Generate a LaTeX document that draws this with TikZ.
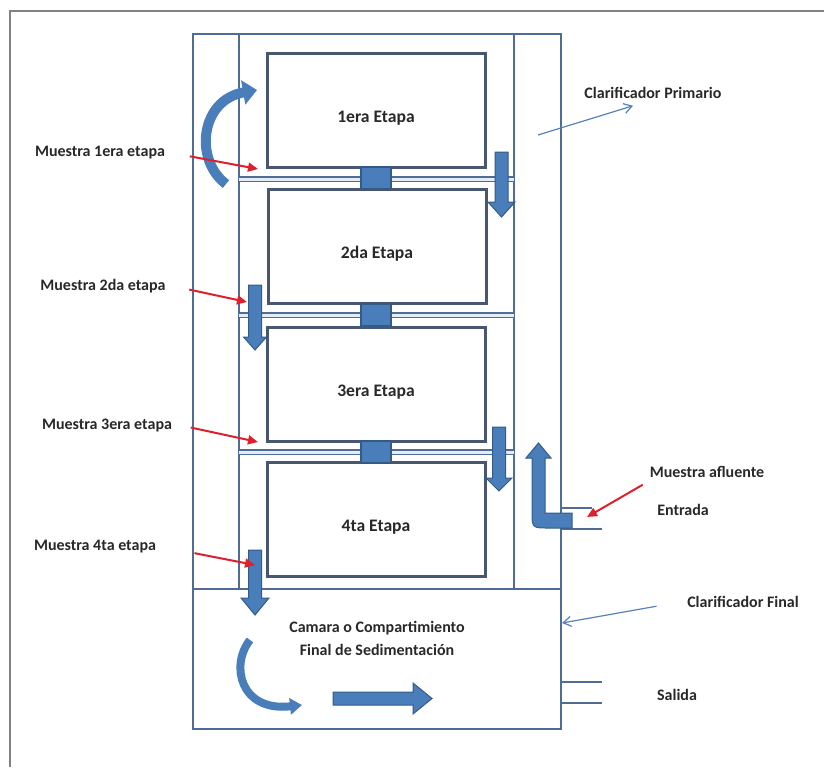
\documentclass[tikz,border=0pt]{standalone}
\usepackage{fontspec}
\setmainfont{Carlito}
\usetikzlibrary{%
	calc,%
	arrows.meta,%
	positioning,%
}
\definecolor{ctank}{RGB}{79, 108, 150}
\definecolor{cstage}{RGB}{72, 86, 112}
\definecolor{cflow}{RGB}{74, 126, 187}
\definecolor{cflowdark}{RGB}{52, 90, 136}
\definecolor{csample}{RGB}{222, 32, 44}
\definecolor{cnote}{RGB}{84, 130, 188}
\definecolor{ctext}{RGB}{40, 40, 40}
\definecolor{cframe}{RGB}{130, 130, 130}
\tikzset{
	>=Triangle,%
	nodes={align=center, text=ctext, font={\fontsize{8}{11.5}\selectfont\bfseries}},%
	tankwall/.style={%
			draw=ctank,%
			line width=1.3pt},%
	tankinner/.style={%
			draw=ctank,%
			line width=0.8pt},%
	stagebox/.style={%
			draw=cstage,%
			rectangle,%
			line width=1.5pt,%
			minimum width=109pt,%
			minimum height=57pt,%
			inner sep=0,%
			fill=white},%
	stagename/.style={font={\fontsize{8.8}{11}\selectfont\bfseries}},%
	divider/.style={%
			draw=ctank,%
			line width=0.65pt,%
			double=white!85!cflow,%
			double distance=1.5pt},%
	passage/.style={%
			draw=cflowdark,%
			fill=cflow,%
			rectangle,%
			line width=0.7pt,%
			minimum width=15pt,%
			minimum height=11pt,%
			inner sep=0},%
	flow/.style={draw=cflowdark, line width=0.5pt, fill=cflow},%
	flowcurve/.style={draw=cflow, line width=5pt, -{Triangle[length=7pt, width=12pt]}},%
	sample/.style={draw=csample, line width=1pt, -{Triangle[length=5pt, width=4.5pt]}},%
	note/.style={draw=cnote, line width=0.6pt, -{Straight Barb[length=4pt, width=5pt]}},%
	pipe/.style={draw=ctank, line width=0.9pt},%
}
\newcommand{\flowdown}[5]{%
	\filldraw[flow] (#1-6.5,#2) -- (#1+6.5,#2) -- (#1+6.5,#3) -- (#1+#5,#3) -- (#1,#4) -- (#1-#5,#3) -- (#1-6.5,#3) -- cycle;}

\begin{document}
\begin{tikzpicture}[x=0.5pt, y=-0.5pt]%
	\useasboundingbox (0,0) rectangle (824,767);
	\draw[cframe, line width=1pt] (9.5,767) -- (9.5,11) -- (824,11);

	% tank walls
	\draw[tankwall] (193,34) rectangle (561,729);
	\draw[tankinner] (239,34) -- (239,589);
	\draw[tankinner] (514,34) -- (514,589);
	\draw[tankwall] (193,589) -- (561,589);
	\foreach \y in {179,315,452}
		\draw[divider] (239,\y) -- (514,\y);

	\foreach \i/\x/\y/\name in {1/376/110/1era Etapa, 2/377/246/2da Etapa, 3/376/384/3era Etapa, 4/376/519/4ta Etapa} {
		\node[stagebox] (stage\i) at (\x,\y) {};
		\node[stagename] (stagename\i) at ($(stage\i.center)+(0,8)$) {\name};
	}
	\foreach \i/\y in {1/178, 2/315, 3/452}
		\node[passage] (pass\i) at (376,\y) {};

	\node (chamber) at (377,638) {Camara o Compartimiento\\Final de Sedimentación};

	% flow arrows
	\flowdown{501.5}{152}{202}{217}{13.5}
	\flowdown{255}{285}{337}{350}{11.5}
	\flowdown{499}{427}{478}{491}{13}
	\flowdown{255}{550}{598}{615}{14}
	\filldraw[flow] (333,692) -- (413,692) -- (413,683) -- (432,698.5) -- (413,714) -- (413,705) -- (333,705) -- cycle;
	\draw[flowcurve] (226,184) .. controls (194,160) and (200,100) .. (257,90);
	\draw[flowcurve, line width=4pt, -{Triangle[length=6pt, width=8pt]}] (250,640) .. controls (230,665) and (240,712) .. (302,705);

	% inlet and outlet
	\draw[pipe] (561,508) -- (592,508);
	\draw[pipe] (561,529) -- (602,529);
	\draw[pipe] (561,682) -- (602,682);
	\draw[pipe] (561,703) -- (602,703);
	\filldraw[flow] (545,458) -- (545,513) -- (572,513) -- (572,528) -- (549,528) .. controls (532,528) .. (532,511) -- (532,458) -- (526,458) -- (538.5,443) -- (551,458) -- cycle;

	% sampling points
	\node (sample1) at (100,153) {Muestra 1era etapa};
	\node (sample2) at (103,286) {Muestra 2da etapa};
	\node (sample3) at (107,425) {Muestra 3era etapa};
	\node (sample4) at (95,547) {Muestra 4ta etapa};
	\node (afluente) at (707,472) {Muestra afluente};
	\coordinate (tap1) at (258,169);
	\coordinate (tap2) at (247,302);
	\coordinate (tap3) at (258,442);
	\coordinate (tap4) at (255,565);
	\coordinate (tap5) at (587,517);
	\foreach \i/\gap in {1/9pt, 2/8.5pt, 3/6pt, 4/16pt}
		\draw[sample, shorten <=\gap] (sample\i.east) -- (tap\i);
	\draw[sample] (afluente.south west) -- (tap5);

	\node (entrada) at (683,510) {Entrada};
	\node (salida) at (677,695) {Salida};

	\node (cprim) at (653,93) {Clarificador Primario};
	\node (cfinal) at (743,602) {Clarificador Final};
	\coordinate (cpin) at (538,135);
	\coordinate (cfwall) at (562,623);
	\draw[note] (cpin) -- ([xshift=-10pt]cprim.south);
	\draw[note, shorten <=12pt] (cfinal.west) -- (cfwall);
\end{tikzpicture}
\end{document}
